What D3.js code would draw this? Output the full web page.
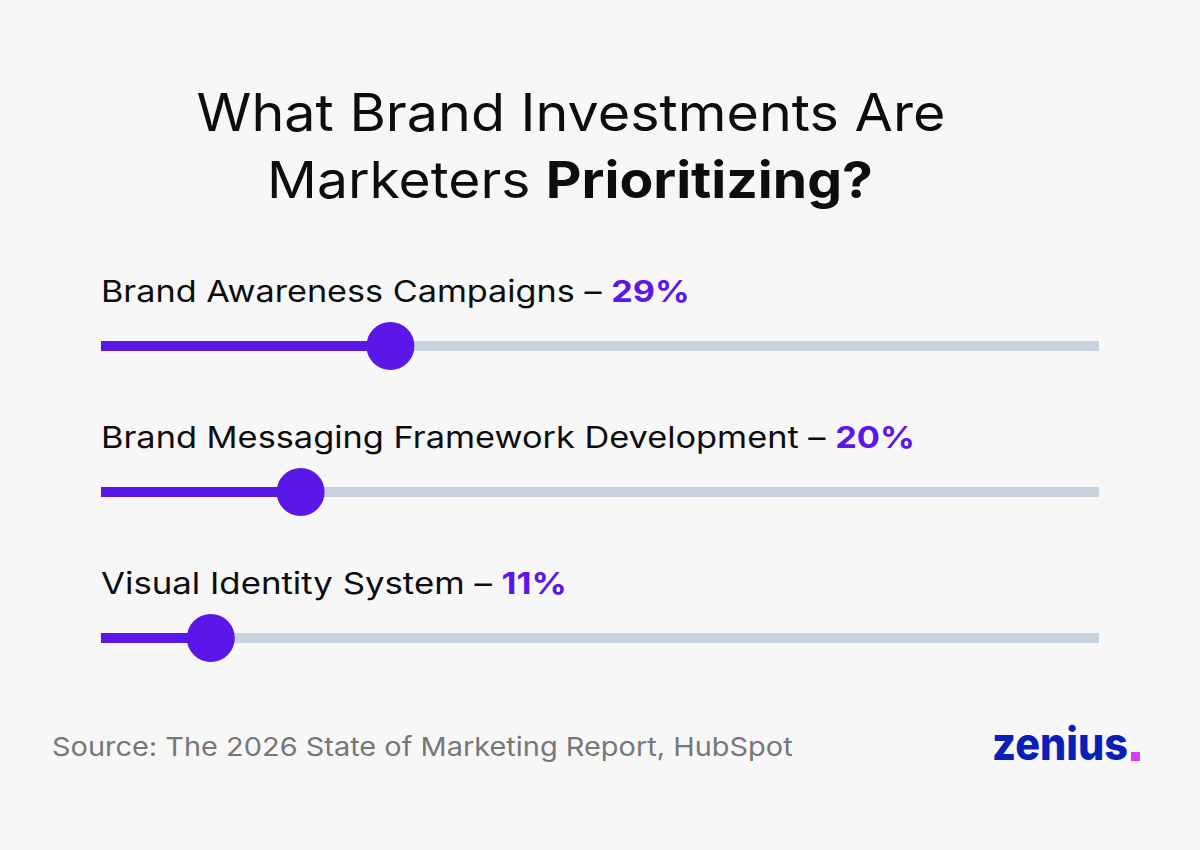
<!DOCTYPE html>
<html>
<head>
<meta charset="utf-8">
<script src="https://cdn.jsdelivr.net/npm/d3@7"></script>
<style>
  html, body { margin: 0; padding: 0; background: #f7f7f7; }
  svg { display: block; font-family: Inter, "Noto Sans", sans-serif; }
</style>
</head>
<body>
<svg id="chart" width="1200" height="850"></svg>
<script>
// data
const categories = ['Brand Awareness Campaigns', 'Brand Messaging Framework Development', 'Visual Identity System'];
const values = [29, 20, 11];
const valueLabels = ['29%', '20%', '11%'];
// widths of the label lines in the reference (font there is wider than Inter)
const labelWidths = [589, 814, 466];

const W = 1200, H = 850;
const purple = '#5b17e8';
const trackColor = '#c8d3df';

const svg = d3.select('#chart');

svg.append('rect').attr('width', W).attr('height', H).attr('fill', '#f7f7f7');

// stretch a text element horizontally to a target width, anchored at x0
function stretch(sel, x0, target) {
  sel.each(function (d, i) {
    const w = this.getBBox().width;
    const t = typeof target === 'function' ? target(d, i) : target;
    const sx = t / w;
    d3.select(this).attr('transform', `translate(${x0},0) scale(${sx},1) translate(${-x0},0)`);
  });
}

// title
const l1 = svg.append('text')
  .attr('x', 571).attr('y', 131).attr('text-anchor', 'middle')
  .attr('fill', '#0d0d0d').attr('font-size', 52)
  .text('What Brand Investments Are');
stretch(l1, 571, 749);
const l2 = svg.append('text')
  .attr('x', 570).attr('y', 198).attr('text-anchor', 'middle')
  .attr('fill', '#0d0d0d').attr('font-size', 51);
l2.append('tspan').text('Marketers ');
l2.append('tspan').attr('font-weight', 700).text('Prioritizing?');
stretch(l2, 570, 606);

// scales
const x = d3.scaleLinear().domain([0, 100]).range([101, 1099]);
const y = d3.scaleBand().domain(categories).range([273, 711]);

const rows = svg.append('g').selectAll('g')
  .data(categories)
  .join('g')
  .attr('transform', d => `translate(0,${y(d)})`);

// label
const lab = rows.append('text')
  .attr('x', x(0)).attr('y', 29)
  .attr('font-size', 30).attr('fill', '#0d0d0d');
lab.append('tspan').text(d => d + ' \u2013 ');
lab.append('tspan').attr('font-weight', 700).attr('fill', purple)
  .text((d, i) => valueLabels[i]);
stretch(lab, x(0), (d, i) => labelWidths[i]);

// track
rows.append('line')
  .attr('x1', x(0)).attr('x2', x(100))
  .attr('y1', 73).attr('y2', 73)
  .attr('stroke', trackColor).attr('stroke-width', 10);

// fill
rows.append('line')
  .attr('x1', x(0)).attr('x2', (d, i) => x(values[i]))
  .attr('y1', 73).attr('y2', 73)
  .attr('stroke', purple).attr('stroke-width', 10);

// knob
rows.append('circle')
  .attr('cx', (d, i) => x(values[i])).attr('cy', 73)
  .attr('r', 24).attr('fill', purple);

// source
const src = svg.append('text')
  .attr('x', 52).attr('y', 756)
  .attr('font-size', 26).attr('fill', '#777')
  .text('Source: The 2026 State of Marketing Report, HubSpot');
stretch(src, 52, 741);

// logo
const logo = svg.append('text')
  .attr('x', 992).attr('y', 760)
  .attr('font-size', 45).attr('font-weight', 800)
  .attr('fill', '#0a1fb5')
  .text('zenius');
stretch(logo, 992, 136);
svg.append('rect')
  .attr('x', 1131).attr('y', 752).attr('width', 9).attr('height', 9)
  .attr('fill', '#d63cf0');
</script>
</body>
</html>
